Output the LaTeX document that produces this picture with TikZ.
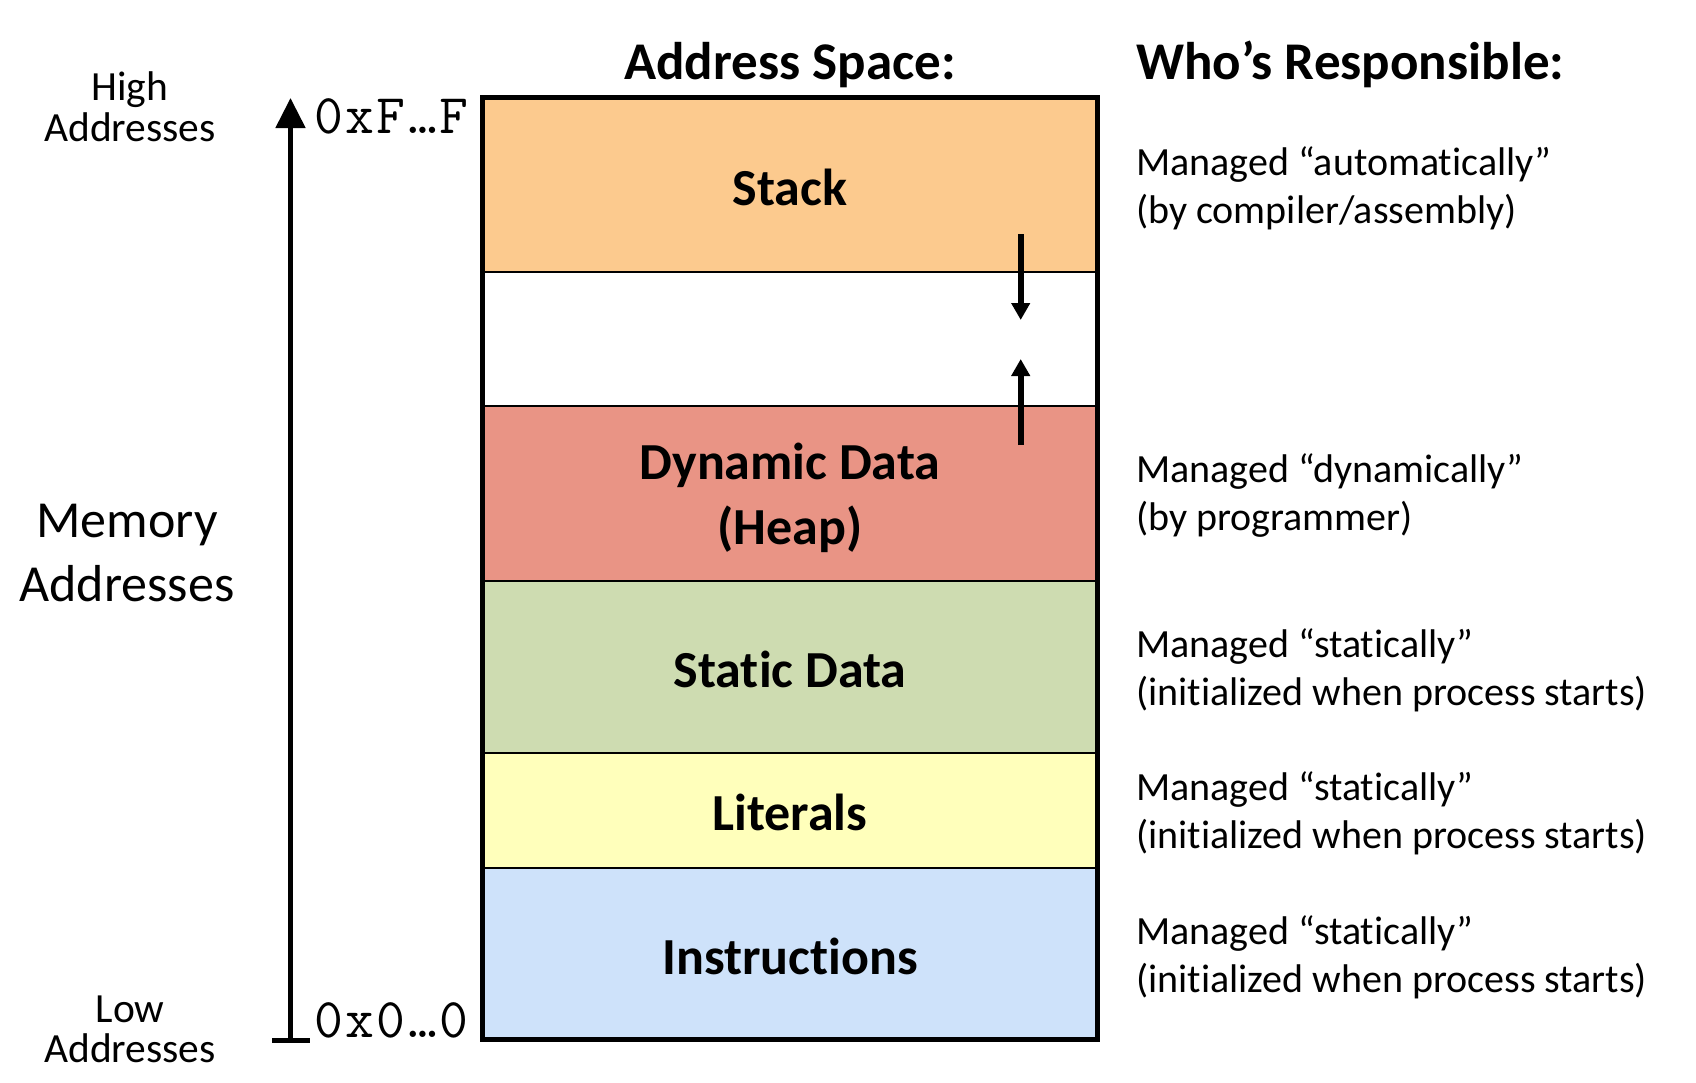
\documentclass[tikz,border=0pt]{standalone}
\usepackage{fontspec}
\setmainfont{Carlito}[Ligatures=NoCommon]
\setmonofont{Latin Modern Mono}[LetterSpace=4.5]
\usetikzlibrary{arrows.meta,positioning}

\definecolor{stackfill}{RGB}{252,202,142}
\definecolor{heapfill}{RGB}{233,148,133}
\definecolor{staticfill}{RGB}{206,220,177}
\definecolor{literalfill}{RGB}{255,255,187}
\definecolor{instrfill}{RGB}{206,226,250}

\begin{document}
\begin{tikzpicture}[
			x=1pt, y=-1pt,
			segment/.style={
					draw,
					line width=1.5pt,
					minimum width=615pt,
					inner sep=0pt,
					outer sep=0pt
				},
			segtext/.style={align=center, inner sep=0pt, font=\fontsize{52}{65}\selectfont\bfseries},
			heading/.style={anchor=base, inner sep=0pt, font=\fontsize{53}{60}\selectfont\bfseries},
			note/.style={anchor=west, align=left, inner sep=0pt, font=\fontsize{40}{48}\selectfont},
			side/.style={align=center, inner sep=0pt},
			addr/.style={anchor=base west, inner sep=0pt, font=\fontsize{56}{56}\selectfont\ttfamily},
			growarrow/.style={line width=6pt, -{Triangle[width=18pt,length=17pt]}}
		]
		\useasboundingbox (0,0) rectangle (1696,1082);

		% segments of the address space
		\node[segment, fill=stackfill, minimum height=174.5pt, anchor=north] (stack) at (790,97.5) {};
		\node[segment, fill=white, minimum height=134pt, below=0pt of stack] (free) {};
		\node[segment, fill=heapfill, minimum height=175pt, below=0pt of free] (heap) {};
		\node[segment, fill=staticfill, minimum height=172pt, below=0pt of heap] (static) {};
		\node[segment, fill=literalfill, minimum height=115pt, below=0pt of static] (literals) {};
		\node[segment, fill=instrfill, minimum height=171.5pt, below=0pt of literals] (instr) {};
		\draw[line width=5pt] (stack.north west) rectangle (instr.south east);

		\node[segtext] (stacktext) at ([yshift=-3pt]stack.center) {Stack};
		\node[segtext] (heaptext) at ([yshift=-4pt]heap.center) {Dynamic Data \\ (Heap)};
		\node[segtext] (statictext) at ([yshift=-2pt]static.center) {Static Data};
		\node[segtext] (literaltext) at ([yshift=-2pt]literals.center) {Literals};
		\node[segtext] (instrtext) at ([yshift=-3pt]instr.center) {Instructions};

		% stack and heap growth
		\coordinate (stackgrow) at (1020.7,234);
		\coordinate (stacktip) at (1020.7,320);
		\coordinate (heapgrow) at (1020.7,445);
		\coordinate (heaptip) at (1020.7,359);
		\draw[growarrow] (stackgrow) -- (stacktip);
		\draw[growarrow] (heapgrow) -- (heaptip);

		% headings
		\node[heading] (spacehead) at (790,79) {Address Space:};
		\node[heading, anchor=base west] (resphead) at (1136,79) {Who’s Responsible:};

		% address axis
		\coordinate (axisbot) at (290.5,1040);
		\coordinate (axistop) at (290.5,98);
		\coordinate (tickleft) at (272,1040);
		\coordinate (tickright) at (310,1040);
		\draw[line width=5pt, -{Triangle[width=29pt,length=30pt]}] (axisbot) -- (axistop);
		\draw[line width=5pt] (tickleft) -- (tickright);
		\node[addr] (highaddr) at (314,133) {0xF…F};
		\node[addr] (lowaddr) at (314,1037) {0x0…0};

		\node[side, font=\fontsize{41.5}{41}\selectfont] (high) at (130,107) {High \\ Addresses};
		\node[side, font=\fontsize{52}{64}\selectfont] (memory) at (127,553) {Memory \\ Addresses};
		\node[side, font=\fontsize{41.5}{40}\selectfont] (low) at (130,1029) {Low \\ Addresses};

		% who is responsible
		\node[note] (autonote) at (1136,188.5) {Managed “automatically” \\ (by compiler/assembly)};
		\node[note] (dynnote) at (1136,496) {Managed “dynamically” \\ (by programmer)};
		\node[note] (staticnote) at (1136,670) {Managed “statically” \\ (initialized when process starts)};
		\node[note] (litnote) at (1136,813) {Managed “statically” \\ (initialized when process starts)};
		\node[note] (instrnote) at (1136,957) {Managed “statically” \\ (initialized when process starts)};
	\end{tikzpicture}
\end{document}
